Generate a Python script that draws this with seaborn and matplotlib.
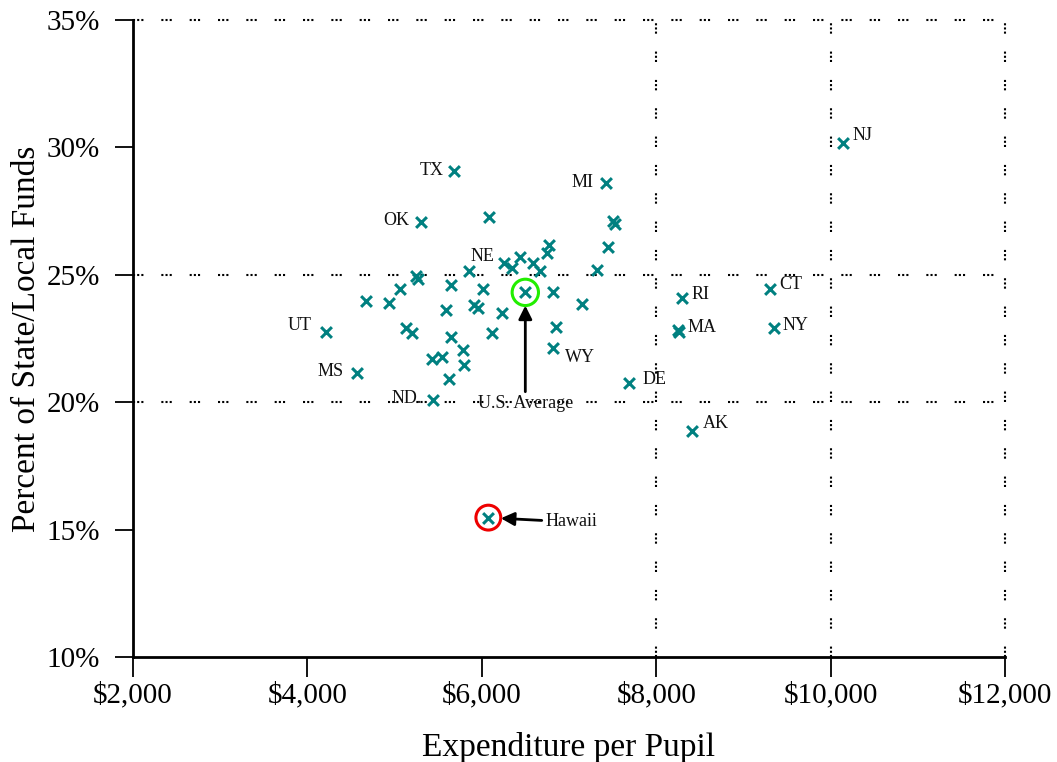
import matplotlib
matplotlib.use("Agg")
import matplotlib.pyplot as plt
import seaborn as sns
import pandas as pd
from matplotlib.ticker import FuncFormatter

# ---- data -------------------------------------------------------------
# labelled states: expenditure per pupil ($) and percent of state/local funds
labeled_codes = ["TX", "MI", "OK", "NE", "UT", "MS", "ND.", "WY",
                 "DE", "RI", "MA", "CT", "NY", "AK", "NJ"]
labeled_spend = [5681, 7421, 5303, 5853, 4210, 4565, 5444, 6821,
                 7692, 8292, 8261, 9305, 9351, 8406, 10139]
labeled_pct = [29.09, 28.59, 27.08, 25.16, 22.77, 21.16, 20.09, 22.11,
               20.77, 24.08, 22.77, 24.43, 22.90, 18.88, 30.19]

# remaining (unlabelled) states
other_spend = [6086, 7510, 7530, 7443, 6767, 6750, 6438, 6255, 6350, 6583,
               6667, 7325, 5240, 5268, 5643, 6010, 6811, 5062, 4672, 4940,
               7145, 5587, 5914, 5960, 6230, 5127, 5196, 5647, 6113, 6848,
               5788, 5796, 5425, 5540, 5628, 8245]
other_pct = [27.28, 27.10, 27.00, 26.08, 26.15, 25.87, 25.71, 25.47, 25.25, 25.48,
             25.16, 25.19, 24.95, 24.85, 24.60, 24.45, 24.31, 24.45, 23.98, 23.88,
             23.85, 23.60, 23.81, 23.69, 23.49, 22.90, 22.73, 22.57, 22.73, 22.96,
             22.05, 21.46, 21.69, 21.76, 20.90, 22.84]

# highlighted points
us_avg_spend, us_avg_pct = 6499, 24.31
hawaii_spend, hawaii_pct = 6075, 15.47

x_ticks = [2000, 4000, 6000, 8000, 10000, 12000]
y_ticks = [10, 15, 20, 25, 30, 35]
grid_x = [8000, 10000, 12000]
grid_y = [20, 25, 35]

# label placement (offset in pixels from each marker)
label_offsets = {
    "TX": (-22, 0), "MI": (-23, 1), "OK": (-25, 1), "NE": (13, 14),
    "UT": (-26, 6), "MS": (-26, 1), "ND.": (-27, 1), "WY": (27, -9),
    "DE": (25, 3), "RI": (19, 4), "MA": (23, 4), "CT": (21, 5),
    "NY": (21, 3), "AK": (24, 7), "NJ": (20, 7),
}

# ---- style ------------------------------------------------------------
sns.set_theme(style="ticks")
plt.rcParams["font.family"] = ["Liberation Serif", "DejaVu Serif"]

teal = "#008080"
dots = (0, (1, 1, 1, 1, 1, 8.6))

fig = plt.figure(figsize=(10.57, 7.62), dpi=100)
ax = fig.add_axes([133 / 1057, 1 - 657 / 762, 872 / 1057, 637 / 762])

df = pd.DataFrame({
    "spend": labeled_spend + other_spend + [us_avg_spend, hawaii_spend],
    "pct": labeled_pct + other_pct + [us_avg_pct, hawaii_pct],
})
sns.scatterplot(data=df, x="spend", y="pct", marker="x", color=teal,
                s=60, linewidth=2.2, ax=ax, zorder=3)

# circles around the highlighted points
ax.scatter([us_avg_spend], [us_avg_pct], s=360, facecolors="none",
           edgecolors="#22ee00", linewidths=2.2, zorder=4)
ax.scatter([hawaii_spend], [hawaii_pct], s=320, facecolors="none",
           edgecolors="#ee0000", linewidths=2.2, zorder=4)

# dotted reference lines
for v in grid_y:
    ax.axhline(v, color="black", lw=1.5, ls=dots, zorder=1, clip_on=False)
for v in grid_x:
    ax.axvline(v, color="black", lw=1.5, ls=dots, zorder=1, clip_on=False)

# state labels
for code, xv, yv in zip(labeled_codes, labeled_spend, labeled_pct):
    dx, dy = label_offsets[code]
    ax.annotate(code, (xv, yv), xytext=(dx, dy), textcoords="offset pixels",
                ha="center", va="center", fontsize=13, color="#111111")

arrow = dict(arrowstyle="-|>", color="black", lw=2, mutation_scale=20,
             shrinkA=0, shrinkB=9.5)
ax.annotate("U.S. Average", xy=(us_avg_spend, us_avg_pct),
            xytext=(us_avg_spend, 19.95), ha="center", va="center",
            fontsize=13, color="#111111", arrowprops=arrow, zorder=5)
ax.annotate("Hawaii", xy=(hawaii_spend, hawaii_pct),
            xytext=(6725, 15.3), ha="left", va="center",
            fontsize=13, color="#111111",
            arrowprops=dict(arrow, shrinkB=9), zorder=5)

# axes
ax.set_xlim(2000, 12000)
ax.set_ylim(10, 35)
ax.set_xticks(x_ticks)
ax.set_yticks(y_ticks)
ax.xaxis.set_major_formatter(FuncFormatter(lambda v, p: f"${v:,.0f}"))
ax.yaxis.set_major_formatter(FuncFormatter(lambda v, p: f"{v:.0f}%"))
for side in ("top", "right"):
    ax.spines[side].set_visible(False)
for side in ("left", "bottom"):
    ax.spines[side].set_linewidth(2)
    ax.spines[side].set_color("black")
ax.tick_params(axis="x", length=14.5, width=1.3, pad=3, labelsize=21,
               colors="black", direction="out")
ax.tick_params(axis="y", length=13, width=1.3, pad=11, labelsize=21,
               colors="black", direction="out")
ax.set_xlabel("Expenditure per Pupil", fontsize=24, color="black", labelpad=17)
ax.set_ylabel("Percent of State/Local Funds", fontsize=24, color="black",
              labelpad=3)

fig.savefig("out.png", dpi=100, facecolor="white")
